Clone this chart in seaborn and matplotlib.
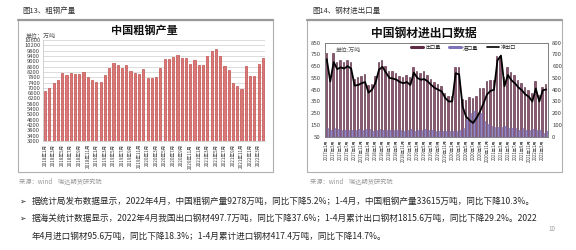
import numpy as np
import pandas as pd
import matplotlib
matplotlib.use("Agg")
import matplotlib.pyplot as plt
import seaborn as sns
from matplotlib.patches import Rectangle
from matplotlib.lines import Line2D

# ---------------- data ----------------
crude_months = [f"{y}年{m}月" for y in range(2018, 2023) for m in range(1, 13)][:52]
crude_2018 = [6725, 7000, 7400, 7625, 8100, 8000, 8100, 8025, 8050, 8225, 7800, 7600]
crude_2019 = [7450, 7450, 8000, 8500, 8900, 8750, 8500, 8700, 8275, 8150, 8025, 8400]
crude_2020 = [7775, 7775, 7850, 8525, 9200, 9150, 9325, 9450, 9250, 9220, 8766, 9125]
crude_2021 = [8750, 8750, 9402, 9785, 9945, 9388, 8679, 8324, 7375, 7158, 6931, 8619]
crude_2022 = [7898, 7898, 8830, 9278]
crude_output = crude_2018 + crude_2019 + crude_2020 + crude_2021 + crude_2022

trade_months = [f"{y}年{m}月" for y in range(2017, 2023) for m in range(1, 13)][:64]
exports = [760, 560, 760, 690, 700, 690, 705, 690, 545, 555, 565, 580,
           490, 500, 570, 685, 705, 655, 605, 605, 595, 570, 555, 575,
           555, 640, 605, 595, 605, 575, 545, 515, 495, 485, 425, 400,
           400, 640, 640, 375, 360, 390, 382, 395, 465, 465, 520, 535,
           535, 735, 740, 560, 640, 600, 575, 530, 505, 470, 450, 420,
           520, 405, 475, 498]
imports = [120, 105, 125, 115, 110, 110, 105, 110, 110, 115, 110, 115,
           115, 100, 110, 115, 110, 110, 105, 110, 110, 105, 100, 110,
           115, 95, 105, 110, 115, 105, 105, 100, 95, 100, 95, 100,
           100, 100, 110, 120, 190, 250, 265, 235, 250, 180, 160, 145,
           135, 130, 130, 140, 125, 120, 120, 110, 120, 105, 110, 115,
           110, 105, 80, 96]
net_exports = [660, 470, 635, 575, 590, 580, 600, 580, 435, 440, 455, 465,
               375, 400, 460, 570, 595, 545, 500, 495, 485, 465, 455, 465,
               440, 545, 500, 485, 490, 470, 440, 415, 400, 385, 330, 300,
               300, 540, 530, 255, 170, 140, 117, 160, 215, 285, 360, 390,
               400, 650, 690, 430, 525, 480, 455, 420, 395, 360, 340, 300,
               410, 300, 395, 402]

# ---------------- figure ----------------
sns.set_theme(style="white")
plt.rcParams['font.family'] = ['Noto Sans CJK SC', 'DejaVu Sans']
plt.rcParams['axes.unicode_minus'] = False

W, H = 576, 250
fig = plt.figure(figsize=(5.76, 2.5), dpi=100)
fig.patch.set_facecolor('white')

def fx(x):
    return x / W

def fy(y):
    return 1 - y / H

def axrect(x0, y0, x1, y1):
    return [fx(x0), fy(y1), fx(x1) - fx(x0), fy(y0) - fy(y1)]

# frames around the two charts
for (x0, x1) in [(18, 273), (307, 562)]:
    fig.patches.append(Rectangle((fx(x0), fy(172)), fx(x1) - fx(x0), fy(20) - fy(172),
                                 transform=fig.transFigure, fill=False,
                                 edgecolor='#B0B0B0', lw=0.8, zorder=0))
    fig.add_artist(Line2D([fx(x0), fx(x1)], [fy(20), fy(20)], transform=fig.transFigure,
                          color='#9A9A9A', lw=1.6))

# ---------------- left chart ----------------
ax1 = fig.add_axes(axrect(43, 40, 265, 141))
df1 = pd.DataFrame({'month': crude_months, 'value': crude_output})
sns.barplot(data=df1, x='month', y='value', ax=ax1, color='#DB7678', saturation=1,
            width=0.5, edgecolor='#C0504D', linewidth=0.5)
ax1.set_ylim(3000, 10600)
ax1.set_yticks(range(3000, 10601, 400))
ax1.yaxis.grid(True, color='#CFCFCF', lw=0.5)
ax1.set_axisbelow(True)
ax1.set_xticks(range(0, 52, 2))
ax1.set_xticklabels(crude_months[::2], rotation=90, fontsize=3.3, color='#404040')
ax1.tick_params(axis='y', labelsize=4.2, length=0, pad=2, colors='#404040')
ax1.tick_params(axis='x', length=0, pad=2)
ax1.set_xlabel('')
ax1.set_ylabel('')
for s in ax1.spines.values():
    s.set_visible(False)
for side in ('left', 'bottom'):
    ax1.spines[side].set_visible(True)
    ax1.spines[side].set_color('#BFBFBF')
    ax1.spines[side].set_linewidth(0.5)

fig.text(fx(144), fy(30), '中国粗钢产量', ha='center', va='center', fontsize=8,
         fontweight='bold', color='#111111')
fig.text(fx(26), fy(35), '单位：万吨', ha='left', va='center', fontsize=4.3, color='#555555')

# ---------------- right chart ----------------
ax2 = fig.add_axes(axrect(325, 42.7, 548, 136.7))
df2 = pd.DataFrame({
    'month': trade_months * 2,
    'kind': ['出口量'] * len(trade_months) + ['进口量'] * len(trade_months),
    'value': exports + imports,
})
sns.barplot(data=df2, x='month', y='value', hue='kind', ax=ax2,
            palette={'出口量': '#8C5872', '进口量': '#9489C6'}, saturation=1,
            width=0.85, edgecolor='#4E2035', linewidth=0.4, legend=False)
for p in ax2.patches[len(trade_months):]:
    p.set_edgecolor('#6E60A4')
ax2.set_ylim(50, 850)
ax2.set_yticks(range(50, 851, 100))
ax2.set_xticks(range(0, 64, 2))
ax2.set_xticklabels(trade_months[::2], rotation=90, fontsize=3.1, color='#404040')
ax2.tick_params(axis='y', labelsize=4.3, length=0, pad=3, colors='#404040')
ax2.tick_params(axis='x', length=0, pad=2)
ax2.set_xlabel('')
ax2.set_ylabel('')

ax3 = ax2.twinx()
sns.lineplot(x=np.arange(len(net_exports)), y=net_exports, ax=ax3, color='black', lw=1.3)
ax3.set_ylim(0, 800)
ax3.set_yticks(range(0, 801, 100))
ax3.tick_params(axis='y', labelsize=4.3, length=0, pad=3, colors='#404040')
ax3.set_ylabel('')
ax2.set_xlim(-0.5, len(trade_months) - 0.5)
for a in (ax2, ax3):
    for s in a.spines.values():
        s.set_color('#7F7F7F')
        s.set_linewidth(0.6)

handles = [Line2D([], [], color='#5E2A44', lw=2.2),
           Line2D([], [], color='#7F72B8', lw=2.2),
           Line2D([], [], color='black', lw=1.2)]
ax3.legend(handles, ['出口量', '进口量', '净出口'], loc='upper left',
           bbox_to_anchor=(0.38, 0.985), ncol=3, fontsize=3.7, frameon=False,
           handlelength=2.4, columnspacing=1.6, handletextpad=0.4,
           borderaxespad=0.0, borderpad=0.2)
fig.text(fx(336), fy(50), '单位:万吨', ha='left', va='center', fontsize=4.2, color='#555555')
fig.text(fx(424), fy(33), '中国钢材进出口数据', ha='center', va='center', fontsize=8.5,
         fontweight='bold', color='#111111')

# ---------------- slide texts ----------------
fig.text(fx(22), fy(11), '图13、粗钢产量', ha='left', va='center', fontsize=5.4, color='#333333')
fig.text(fx(312), fy(11), '图14、钢材进出口量', ha='left', va='center', fontsize=5.4, color='#333333')
fig.text(fx(19), fy(181), '来源：wind    瑞达期货研究院', ha='left', va='center', fontsize=4.5, color='#9A9A9A')
fig.text(fx(310), fy(181), '来源：wind    瑞达期货研究院', ha='left', va='center', fontsize=4.5, color='#9A9A9A')

lines = [
    '据统计局发布数据显示，2022年4月，中国粗钢产量9278万吨，同比下降5.2%；1-4月，中国粗钢产量33615万吨，同比下降10.3%。',
    '据海关统计数据显示，2022年4月我国出口钢材497.7万吨，同比下降37.6%；1-4月累计出口钢材1815.6万吨，同比下降29.2%。2022',
    '年4月进口钢材95.6万吨，同比下降18.3%；1-4月累计进口钢材417.4万吨，同比下降14.7%。',
]
ys = [201, 218, 236]
for t, y in zip(lines, ys):
    fig.text(fx(32), fy(y), t, ha='left', va='center', fontsize=6.2, color='#262626')
for y in ys[:2]:
    fig.text(fx(19), fy(y), '➢', ha='left', va='center', fontsize=5.5, color='#262626',
             family=['DejaVu Sans'])
fig.text(fx(548), fy(229), '10', ha='left', va='center', fontsize=4.5, color='#9A9A9A')

fig.savefig('out.png', dpi=100, facecolor='white')
